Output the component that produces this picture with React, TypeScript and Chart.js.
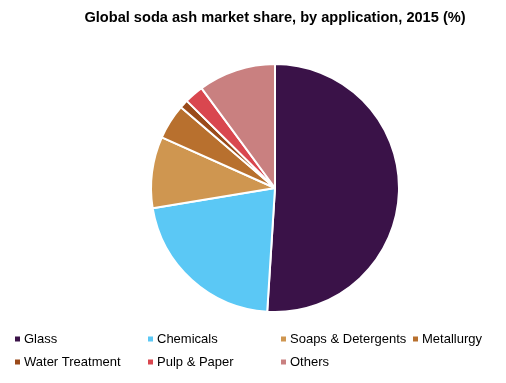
import React, { useEffect, useRef } from "react";
import { Chart, registerables } from "chart.js";

Chart.register(...registerables);

const categories = ["Glass", "Chemicals", "Soaps & Detergents", "Metallurgy", "Water Treatment", "Pulp & Paper", "Others"];
const shares = [51.0, 21.4, 9.3, 4.6, 1.1, 2.5, 10.1];
const colors = ["#3a1248", "#5bc8f5", "#cf9650", "#b8702e", "#9a4a1a", "#d9474f", "#c98080"];
const titleText = "Global soda ash market share, by application, 2015 (%)";

const overlayPlugin = {
  id: "overlay",
  afterDraw(chart: any) {
    const ctx = chart.ctx;
    ctx.save();
    ctx.fillStyle = "#000";
    ctx.font = "bold 14.6px 'Liberation Sans', Arial, sans-serif";
    ctx.textAlign = "center";
    ctx.textBaseline = "middle";
    ctx.fillText(titleText, 275, 18);

    const labels: string[] = chart.data.labels;
    const bg: string[] = chart.data.datasets[0].backgroundColor;
    const colX = [15, 148, 281, 413];
    const rowY = [339, 362];
    ctx.font = "13px 'Liberation Sans', Arial, sans-serif";
    ctx.textAlign = "left";
    labels.forEach((lab, i) => {
      const r = Math.floor(i / 4);
      const c = i % 4;
      const x = colX[c];
      const y = rowY[r];
      ctx.fillStyle = bg[i];
      ctx.fillRect(x, y - 2.5, 5, 5);
      ctx.fillStyle = "#000";
      ctx.fillText(lab, x + 9, y);
    });
    ctx.restore();
  },
};

export default function App() {
  const ref = useRef<HTMLCanvasElement>(null);
  useEffect(() => {
    document.body.style.margin = "0";
    const chart = new Chart(ref.current!, {
      type: "pie",
      data: {
        labels: categories,
        datasets: [
          {
            data: shares,
            backgroundColor: colors,
            borderColor: "#ffffff",
            borderWidth: 2,
          },
        ],
      },
      options: {
        animation: false,
        responsive: false,
        layout: { padding: { left: 150, right: 106, top: 63, bottom: 70 } },
        plugins: {
          legend: { display: false },
          title: { display: false },
          tooltip: { enabled: false },
        },
      },
      plugins: [overlayPlugin],
    });
    return () => chart.destroy();
  }, []);
  return (
    <div style={{ width: 506, height: 383, background: "#fff" }}>
      <canvas ref={ref} width={506} height={383} />
    </div>
  );
}
